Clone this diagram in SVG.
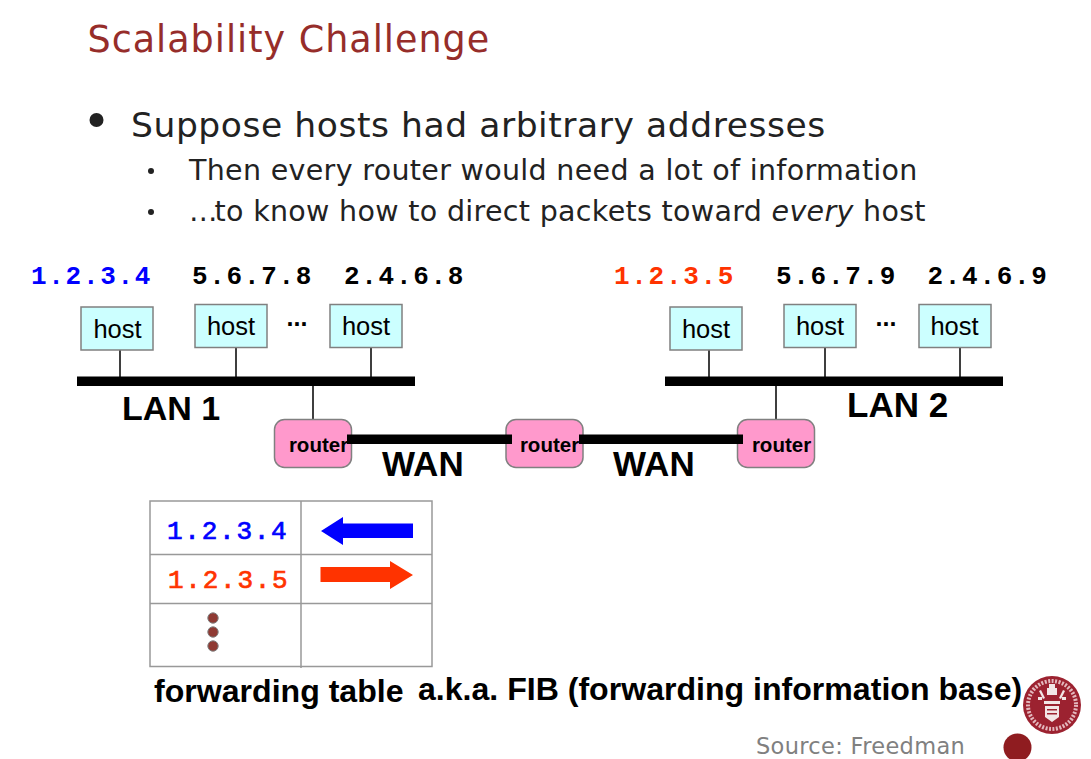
<svg xmlns="http://www.w3.org/2000/svg" width="1091" height="759" viewBox="0 0 1091 759">
<style>
.bg{fill:#fff}
.title{font:36.500px "DejaVu Sans",sans-serif;fill:#962d2a;letter-spacing:1px}
.b1{font:34.500px "DejaVu Sans",sans-serif;fill:#222;letter-spacing:.56px}
.b2{font:28.500px "DejaVu Sans",sans-serif;fill:#222;letter-spacing:.32px}
.ip{font:bold 26px "Liberation Mono",monospace;letter-spacing:1.7px}
.tip{font:26px "Liberation Mono",monospace;stroke-width:.7px;letter-spacing:1.75px}
.host rect{fill:#ccffff;stroke:#808080;stroke-width:1.5}
.host text{font:25.500px "Liberation Sans",sans-serif;fill:#000;text-anchor:middle}
.router rect{fill:#ff99cc;stroke:#808080;stroke-width:1.5}
.router text{font:bold 20.500px "Liberation Sans",sans-serif;fill:#000;text-anchor:middle}
.big{font:bold 35px "Liberation Sans",sans-serif;fill:#000}
.lan1{font-size:34px}
.fib{font:bold 32.100px "Liberation Sans",sans-serif;fill:#000}
.src{font:22.500px "DejaVu Sans",sans-serif;fill:#808080;letter-spacing:.32px}
.dots{font:bold 25px "Liberation Sans",sans-serif;fill:#000;text-anchor:middle}
.thin{stroke:#000;stroke-width:1.5;fill:none}
.thick{fill:#000}
.grid{stroke:#999;stroke-width:1.5;fill:none}
.dot{fill:#8f3a33;stroke:#808080;stroke-width:1}
</style>
<rect class="bg" width="1091" height="759"/>
<text class="title" x="87.500" y="52">Scalability Challenge</text>
<circle cx="96.500" cy="120" r="7" fill="#222"/>
<text class="b1" x="131" y="137">Suppose hosts had arbitrary addresses</text>
<circle cx="151" cy="171" r="3" fill="#222"/>
<text class="b2" x="189" y="180">Then every router would need a lot of information</text>
<circle cx="151" cy="212" r="3" fill="#222"/>
<text class="b2" x="189" y="221"><tspan letter-spacing="-3">…</tspan>to know how to direct packets toward <tspan font-style="italic">every</tspan> host</text>

<g id="addresses">
<text class="ip" x="31" y="284" fill="#0000ff">1.2.3.4</text>
<text class="ip" x="192" y="284" fill="#000">5.6.7.8</text>
<text class="ip" x="344" y="284" fill="#000">2.4.6.8</text>
<text class="ip" x="614" y="284" fill="#ff3300">1.2.3.5</text>
<text class="ip" x="776" y="284" fill="#000">5.6.7.9</text>
<text class="ip" x="927.500" y="284" fill="#000">2.4.6.9</text>
</g>

<g id="connectors">
<path class="thin" d="M120 349V378M236 347V378M371 347V378M313 385V420M709 349V378M825 347V378M960 347V378M776 385V420"/>
<rect class="thick" x="77" y="376.500" width="338" height="9.500"/>
<rect class="thick" x="665" y="376.500" width="338" height="9.500"/>
</g>

<g id="host-1" class="host"><rect x="81" y="307" width="72" height="43"/><text x="117.500" y="338">host</text></g>
<g id="host-2" class="host"><rect x="195" y="304.500" width="72" height="43"/><text x="231" y="335">host</text></g>
<g id="host-3" class="host"><rect x="330" y="304.500" width="72" height="43"/><text x="366" y="335">host</text></g>
<g id="host-4" class="host"><rect x="670" y="307" width="72" height="43"/><text x="706" y="338">host</text></g>
<g id="host-5" class="host"><rect x="784" y="304.500" width="72" height="43"/><text x="820" y="335">host</text></g>
<g id="host-6" class="host"><rect x="919" y="304.500" width="72" height="43"/><text x="954.500" y="335">host</text></g>
<text class="dots" x="297" y="326">...</text>
<text class="dots" x="886" y="326">...</text>

<g id="router-1" class="router"><rect x="274.500" y="419.500" width="77" height="48" rx="10"/><text x="318.500" y="451.500">router</text></g>
<g id="router-2" class="router"><rect x="506" y="419.500" width="77" height="48" rx="10"/><text x="549.500" y="451.500">router</text></g>
<g id="router-3" class="router"><rect x="737.500" y="419.500" width="77" height="48" rx="10"/><text x="781.500" y="451.500">router</text></g>
<g id="wan-links">
<rect class="thick" x="347" y="434.500" width="165" height="9.500"/>
<rect class="thick" x="579" y="434.500" width="164" height="9.500"/>
</g>

<text class="big lan1" x="122" y="419.500">LAN 1</text>
<text class="big" x="847" y="417">LAN 2</text>
<text class="big" x="382" y="475.500">WAN</text>
<text class="big" x="613" y="475.500">WAN</text>

<g id="forwarding-table">
<path class="grid" d="M150 501H432V666.500H150ZM301 501V668M150 554.500H432M150 603.500H432"/>
<text class="tip" x="167" y="539" fill="#0000ff" stroke="#0000ff">1.2.3.4</text>
<text class="tip" x="168" y="588" fill="#ff3300" stroke="#ff3300">1.2.3.5</text>
<polygon fill="#0000ff" points="321,531 343,517 343,523.500 413,523.500 413,538 343,538 343,545"/>
<polygon fill="#ff3300" points="413,575 390,561 390,567 320.500,567 320.500,582 390,582 390,589"/>
<circle class="dot" cx="213" cy="618" r="5.200"/>
<circle class="dot" cx="213" cy="632" r="5.200"/>
<circle class="dot" cx="213" cy="646" r="5.200"/>
</g>
<text class="fib" x="154" y="702">forwarding table</text>
<text class="fib" x="418" y="700">a.k.a. FIB (forwarding information base)</text>

<text class="src" x="756" y="754">Source: Freedman</text>
<circle cx="1017.500" cy="747.500" r="14" fill="#8f1c20"/>

<g id="seal">
<circle cx="1052" cy="705" r="29" fill="#9c2230"/>
<circle cx="1052" cy="705" r="24" fill="none" stroke="#e3b8bd" stroke-width="4" stroke-dasharray="2 1.500"/>
<circle cx="1052" cy="705" r="20" fill="#9c2230"/>
<path fill="#f2e6e6" d="M1049 684h6v4h2v7h-10v-7h2zM1041 690l4 8-2 1-4-8zM1063 690l-4 8 2 1 4-8zM1038 697h4v3h-4zM1062 697h4v3h-4zM1044 701h16v3h-16zM1045 706h14v11l-7 5-7-5z"/>
<path fill="#9c2230" d="M1047 709h10v1.500h-10zM1047 713h10v1.500h-10z"/>
</g>
</svg>
